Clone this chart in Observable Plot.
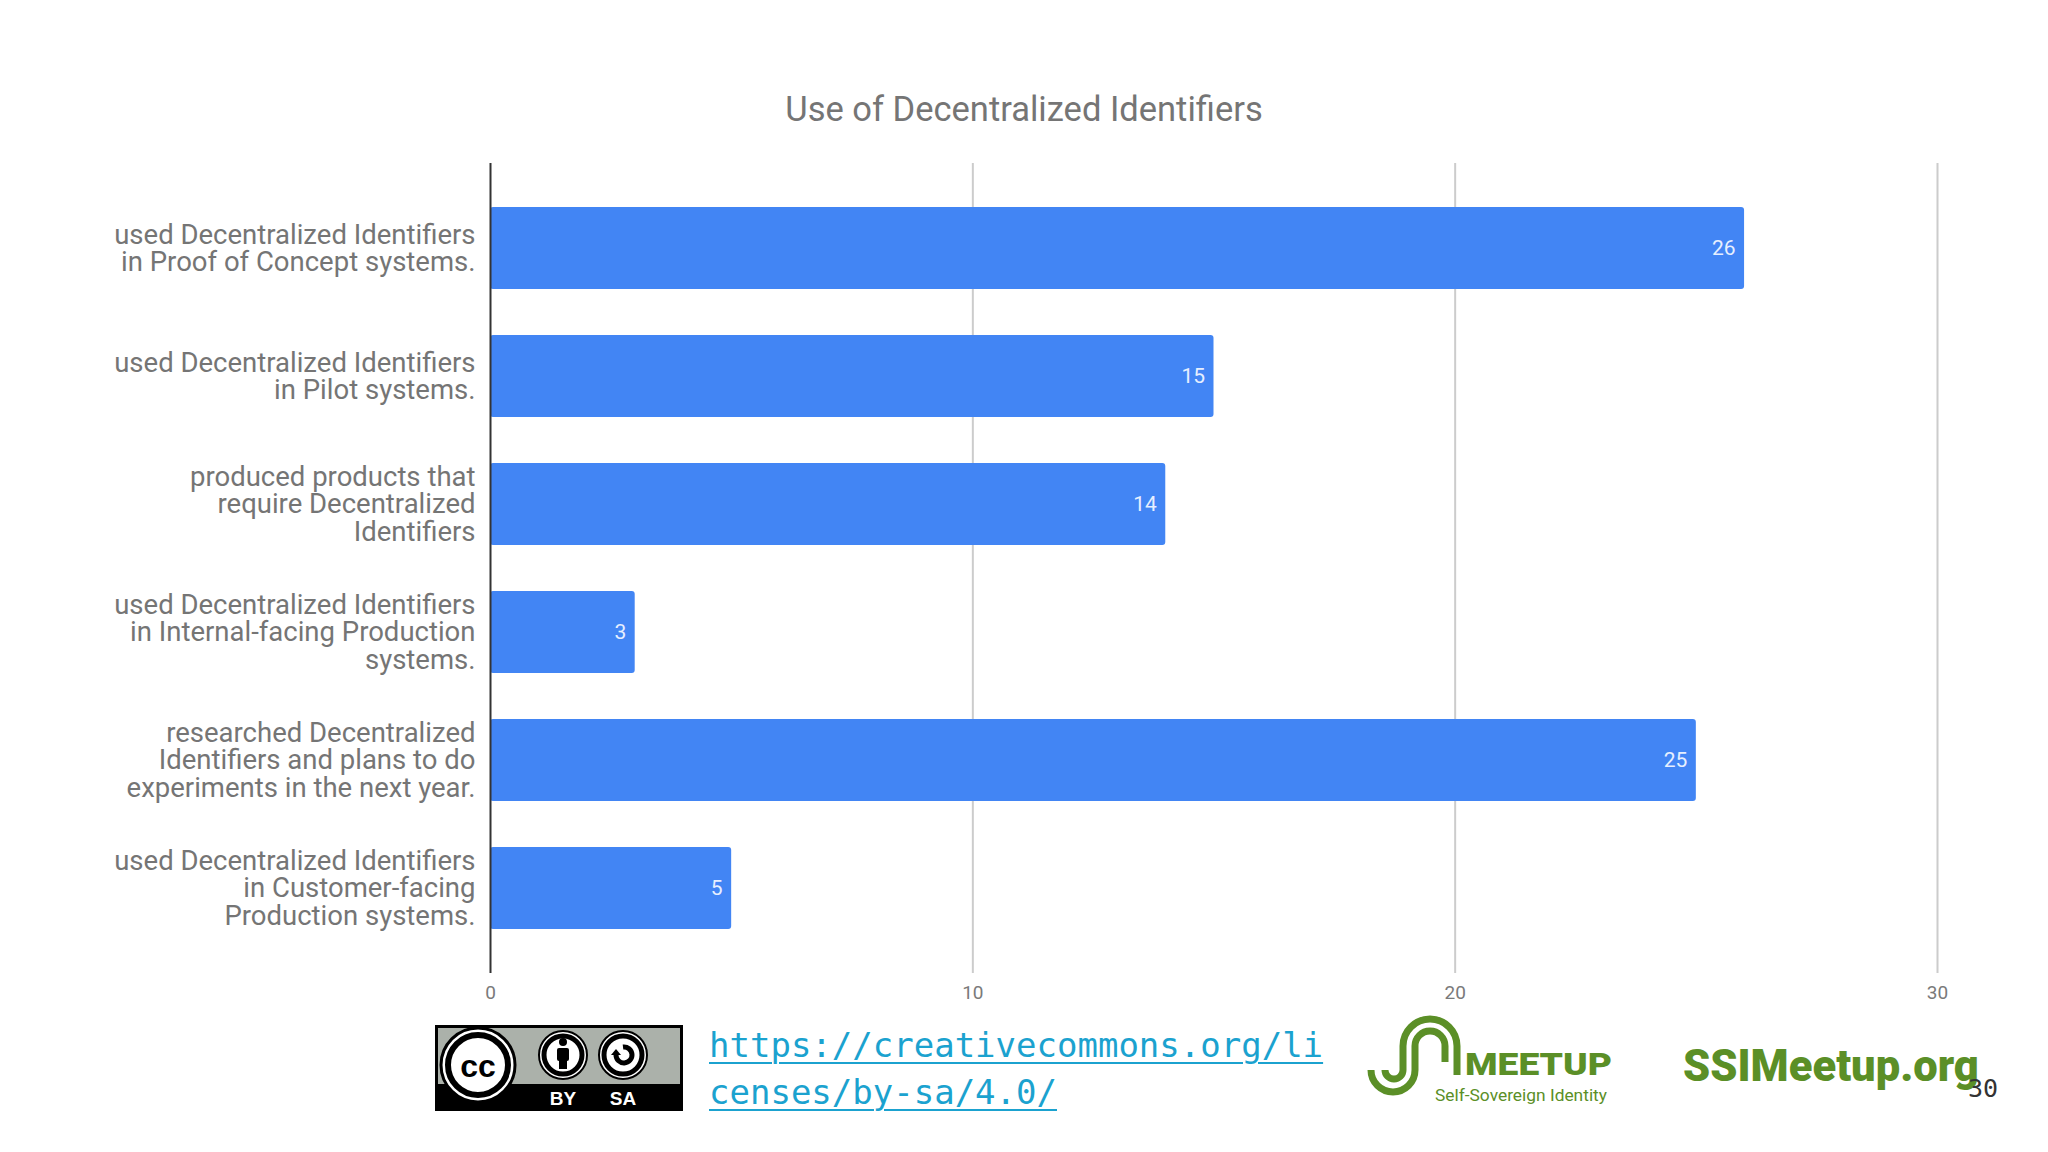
<!DOCTYPE html>
<html>
<head>
<meta charset="utf-8">
<script src="https://cdn.jsdelivr.net/npm/d3@7"></script>
<script src="https://cdn.jsdelivr.net/npm/@observablehq/plot@0.6"></script>
<style>
  html, body { margin: 0; padding: 0; background: #ffffff; }
  #page { position: relative; width: 2048px; height: 1152px; overflow: hidden; background: #ffffff; font-family: Roboto, "Noto Sans", sans-serif; }
  #chart { position: absolute; left: 0; top: 0; }
  #title { position: absolute; left: 0; width: 2048px; top: 86px; text-align: center; font-size: 34.5px; color: #757575; font-family: Roboto, sans-serif; line-height: 46px; }
  .abs { position: absolute; }
  #url { left: 709px; top: 1022px; font-family: "DejaVu Sans Mono", "Liberation Mono", monospace; font-size: 34px; line-height: 47px; color: #1ba2cf; }
  #url span { text-decoration: underline; text-decoration-thickness: 2px; text-underline-offset: 5px; }
  #site { left: 1683px; top: 1041px; font-family: Roboto, sans-serif; font-weight: 900; font-size: 43.5px; color: #5b8f27; white-space: nowrap; }
  #pagenum { left: 1968px; top: 1074px; font-family: "DejaVu Sans Mono", monospace; font-size: 25px; color: #333; }
</style>
</head>
<body>
<div id="page">
  <div id="chart"></div>
  <div id="title"></div>
  <svg class="abs" id="cc" style="left:435px;top:1025px" width="248" height="86" viewBox="0 0 248 86">
    <rect x="0" y="0" width="248" height="86" fill="#000"/>
    <rect x="3" y="3" width="242" height="56" fill="#abb1aa"/>
    <circle cx="43" cy="40" r="37" fill="#fff" stroke="#000" stroke-width="3"/>
    <circle cx="43" cy="40" r="30" fill="#fff" stroke="#000" stroke-width="6"/>
    <text x="43" y="52" text-anchor="middle" font-family="Liberation Sans, Arial" font-weight="bold" font-size="32" fill="#000">cc</text>
    <circle cx="128" cy="30" r="24" fill="#fff" stroke="#000" stroke-width="2"/>
    <circle cx="128" cy="30" r="19" fill="#fff" stroke="#000" stroke-width="5"/>
    <circle cx="128" cy="17" r="4" fill="#000"/>
    <rect x="122" y="23" width="12" height="13" rx="2" fill="#000"/>
    <rect x="124" y="33" width="8" height="11" fill="#000"/>
    <circle cx="188" cy="30" r="24" fill="#fff" stroke="#000" stroke-width="2"/>
    <circle cx="188" cy="30" r="19" fill="#fff" stroke="#000" stroke-width="5"/>
    <path d="M181 30 A8 8 0 1 0 188 22" fill="none" stroke="#000" stroke-width="5"/>
    <path d="M176 30 L181 24 L186 30 Z" fill="#000"/>
    <text x="128" y="80" text-anchor="middle" font-family="Liberation Sans, Arial" font-weight="bold" font-size="19" fill="#fff">BY</text>
    <text x="188" y="80" text-anchor="middle" font-family="Liberation Sans, Arial" font-weight="bold" font-size="19" fill="#fff">SA</text>
  </svg>
  <div class="abs" id="url"><span>https://creativecommons.org/li</span><br><span>censes/by-sa/4.0/</span></div>
  <svg class="abs" id="logo" style="left:1360px;top:1010px" width="270" height="100" viewBox="0 0 270 100">
    <g fill="none" stroke="#5b8f27" stroke-width="7" stroke-linecap="butt">
      <path d="M11 60 A22 22 0 0 0 55 60 L55 36 A15 15 0 0 1 85 36 L85 52"/>
      <path d="M25 60 A9 9 0 0 0 43 60 L43 36 A27 27 0 0 1 97 36 L97 65"/>
    </g>
    <text x="105" y="65" font-family="Roboto, sans-serif" font-weight="900" font-size="31" fill="#5b8f27" textLength="147" lengthAdjust="spacingAndGlyphs">MEETUP</text>
    <text x="75" y="91" font-family="Roboto, sans-serif" font-size="17" fill="#5b8f27" textLength="172" lengthAdjust="spacingAndGlyphs">Self-Sovereign Identity</text>
  </svg>
  <div class="abs" id="site">SSIMeetup.org</div>
  <div class="abs" id="pagenum">30</div>
</div>
<script>
const titleText = "Use of Decentralized Identifiers";
const categories = [
  "used Decentralized Identifiers\nin Proof of Concept systems.",
  "used Decentralized Identifiers\nin Pilot systems.",
  "produced products that\nrequire Decentralized\nIdentifiers",
  "used Decentralized Identifiers\nin Internal-facing Production\nsystems.",
  "researched Decentralized\nIdentifiers and plans to do\nexperiments in the next year.",
  "used Decentralized Identifiers\nin Customer-facing\nProduction systems."
];
const counts = [26, 15, 14, 3, 25, 5];
const xTicks = [0, 10, 20, 30];
const xDomain = [0, 30];

document.getElementById("title").textContent = titleText;

const data = categories.map((c, i) => ({category: c, count: counts[i]}));

const chart = Plot.plot({
  width: 2048,
  height: 1020,
  marginTop: 163,
  marginBottom: 47,
  marginLeft: 490,
  marginRight: 111,
  style: {background: "transparent", fontFamily: "Roboto, sans-serif"},
  x: {domain: xDomain, ticks: xTicks},
  y: {domain: categories, paddingInner: 0.36, paddingOuter: 0.336},
  marks: [
    Plot.gridX(xTicks.filter(d => d > 0), {stroke: "#cccccc", strokeOpacity: 1, strokeWidth: 2}),
    Plot.axisX(xTicks, {tickSize: 0, tickPadding: 12, fontSize: 19, color: "#7a7a7a", label: null}),
    Plot.axisY({tickSize: 0, tickPadding: 15, fontSize: 27.5, lineHeight: 1.0, color: "#757575", label: null}),
    Plot.barX(data, {y: "category", x: "count", fill: "#4285f4", rx: 3}),
    Plot.ruleX([0], {stroke: "#333333", strokeWidth: 2}),
    Plot.text(data, {y: "category", x: "count", text: d => String(d.count), textAnchor: "end", dx: -9, fill: "#e6efff", fontSize: 21})
  ]
});
document.getElementById("chart").appendChild(chart);
</script>
</body>
</html>
